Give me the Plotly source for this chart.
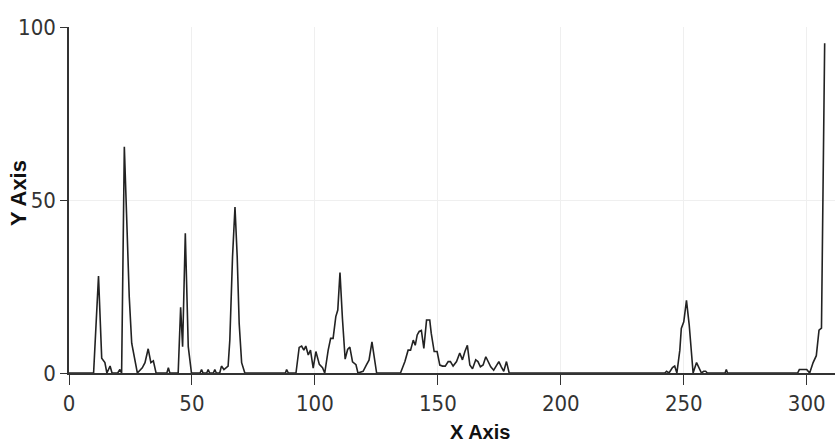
import plotly.graph_objects as go

x_vals = [0, 10, 12, 13.3, 14.6, 15.4, 16.7, 17.5, 19.8, 20.7, 21.4, 22.5, 23.4, 24.5, 25.5, 26.8, 27.8,
          29.8, 30.9, 32.2, 33.3, 34.3, 35.4, 39.8, 40.4, 41, 44.4, 45.4, 46.2, 47.3, 48.5, 49.8,
          53.3, 53.9, 54.5, 56, 56.6, 57.2, 58.7, 59.3, 59.9, 61.3, 62, 63, 64.7, 65.4, 66.5, 67.5,
          68.4, 69.2, 70.2, 71.5, 88, 88.5, 89.2, 92.3, 93.6, 94.6, 95.5, 96.3, 97.3, 98.2, 99.3,
          100.4, 101.8, 103.1, 104, 105.4, 106.4, 107.4, 108.5, 109.3, 110.2, 111.2, 112.3, 113.3,
          114.2, 115.3, 116.7, 117.5, 119.6, 121, 122, 123.2, 124.1, 125.1, 134.8, 136.6, 137.9,
          138.9, 140, 140.8, 141.6, 142.4, 143.3, 144.3, 145.4, 146.7, 147.3, 148.5, 149.7, 150.8,
          151.9, 153, 154.2, 155.1, 156.2, 157.6, 158.9, 160, 161, 162, 163, 164.1, 165.4, 166.3,
          167.3, 168.4, 169.5, 170.6, 171.5, 172.7, 173.8, 174.8, 175.8, 176.8, 177.9, 179,
          242.3, 243, 244, 245.4, 246.3, 247.2, 248.4, 249, 250, 251.1, 252.2, 253.1, 253.8, 255.2,
          256.3, 257.2, 258.1, 258.9, 259.6, 266.8, 267.3, 267.8, 296.3, 297, 300, 301.2, 302.6,
          303.9, 305, 306, 307.3]
y_vals = [0, 0, 28, 4.3, 3, 0, 2, 0, 0, 1, 0, 65.4, 46, 22, 8.6, 3, 0,
          1.5, 3, 7, 3, 3.5, 0, 0, 1.5, 0, 0, 19, 7.6, 40.4, 7.6, 0,
          0, 1, 0, 0, 1, 0, 0, 1, 0, 0, 2, 1, 2, 9.5, 33.6, 48,
          33.6, 14.4, 3, 0, 0, 1, 0, 0, 7.4, 7.8, 6.6, 7.8, 5.2, 6.6, 1.4,
          6.2, 2.5, 1.5, 0, 6.6, 10, 10, 16.3, 18.2, 29, 15.7, 4, 6.8,
          7.5, 3.2, 2.4, 0, 0.5, 2.4, 3.7, 9, 5.2, 0, 0, 3.3, 6.6,
          6.6, 9.5, 8, 11, 12, 12.3, 7.1, 15.3, 15.3, 11.5, 6.2, 6.2, 2.3,
          2, 2, 3.3, 3.3, 2, 3.3, 5.8, 3.8, 6.2, 8, 2.3, 1.2, 3.8, 3.3,
          1.8, 2.3, 4.7, 3, 1.8, 0.8, 2.3, 3.3, 1.8, 0.5, 3.3, 0,
          0, 0.5, 0, 1.6, 2, 0, 6.6, 12.9, 14.8, 21, 14, 4.7, 0, 3,
          1.5, 0, 0.5, 0.5, 0, 0, 1, 0, 0, 1, 1, 0, 3,
          5, 12.4, 13, 95.3]

x_ticks = [0, 50, 100, 150, 200, 250, 300]
y_ticks = [0, 50, 100]

tick_font = dict(family="Liberation Sans Narrow, DejaVu Sans Condensed, sans-serif", size=22, color="#333")
title_font = "Liberation Sans, Arial, sans-serif"

fig = go.Figure()
fig.add_trace(go.Scatter(x=x_vals, y=y_vals, mode="lines",
                         line=dict(color="#222", width=1.6), showlegend=False, hoverinfo="skip"))

fig.update_layout(
    width=835, height=446,
    margin=dict(l=69, r=0, t=27, b=73),
    paper_bgcolor="white", plot_bgcolor="white",
    xaxis=dict(range=[0, 311.5], tickvals=x_ticks, ticks="outside", ticklen=10, tickcolor="#333",
               showline=True, linecolor="#333", linewidth=1.5, showgrid=True, gridcolor="#efefef",
               gridwidth=1, zeroline=False, tickfont=tick_font),
    yaxis=dict(range=[0, 100], tickvals=y_ticks, ticks="outside", ticklen=7, tickcolor="#333",
               showline=True, linecolor="#333", linewidth=1.5, showgrid=True, gridcolor="#efefef",
               gridwidth=1, zeroline=False, tickfont=tick_font),
    annotations=[
        dict(text="<b>X Axis</b>", xref="paper", yref="paper", x=0.537, y=0, yshift=-59,
             xanchor="center", yanchor="middle", showarrow=False,
             font=dict(family=title_font, size=20, color="#111")),
        dict(text="<b>Y Axis</b>", xref="paper", yref="paper", x=0, xshift=-51, y=0.52,
             xanchor="center", yanchor="middle", textangle=-90, showarrow=False,
             font=dict(family=title_font, size=22, color="#111")),
    ],
)

fig.write_html("out.html")
